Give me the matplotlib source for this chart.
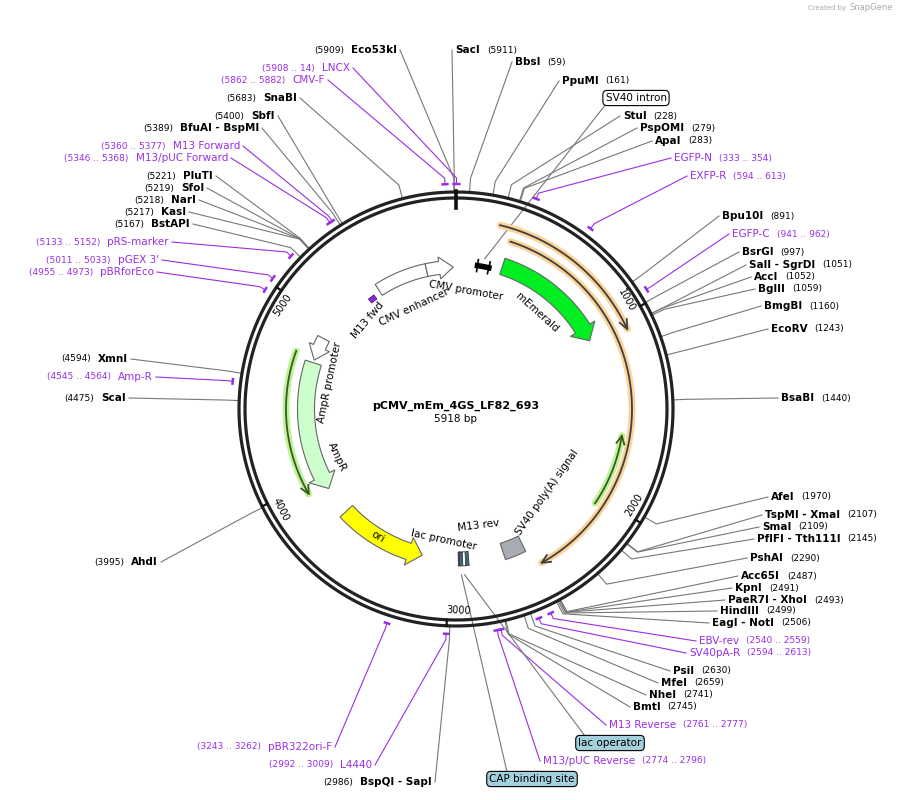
import numpy as np
import matplotlib.pyplot as plt
from matplotlib.patches import Polygon

SEQ_LEN = 5918
TITLE = 'pCMV_mEm_4GS_LF82_693'

# restriction sites
enzyme_names = ['Eco53kI', 'SacI', 'BbsI', 'PpuMI', 'StuI', 'PspOMI', 'ApaI', 'Bpu10I', 'BsrGI',
                'SalI - SgrDI', 'AccI', 'BglII', 'BmgBI', 'EcoRV', 'BsaBI', 'AfeI', 'TspMI - XmaI',
                'SmaI', 'PflFI - Tth111I', 'PshAI', 'Acc65I', 'KpnI', 'PaeR7I - XhoI', 'HindIII',
                'EagI - NotI', 'PsiI', 'MfeI', 'NheI', 'BmtI', 'BspQI - SapI', 'AhdI', 'ScaI',
                'XmnI', 'BstAPI', 'KasI', 'NarI', 'SfoI', 'PluTI', 'BfuAI - BspMI', 'SbfI', 'SnaBI']
enzyme_pos = [5909, 5911, 59, 161, 228, 279, 283, 891, 997, 1051, 1052, 1059, 1160, 1243, 1440,
              1970, 2107, 2109, 2145, 2290, 2487, 2491, 2493, 2499, 2506, 2630, 2659, 2741, 2745,
              2986, 3995, 4475, 4594, 5167, 5217, 5218, 5219, 5221, 5389, 5400, 5683]

# primer binding sites
primer_names = ['LNCX', 'CMV-F', 'M13 Forward', 'M13/pUC Forward', 'pRS-marker', "pGEX 3'",
                'pBRforEco', 'Amp-R', 'pBR322ori-F', 'L4440', 'EGFP-N', 'EXFP-R', 'EGFP-C',
                'EBV-rev', 'SV40pA-R', 'M13 Reverse', 'M13/pUC Reverse']
primer_start = [5908, 5862, 5360, 5346, 5133, 5011, 4955, 4545, 3243, 2992, 333, 594, 941,
                2540, 2594, 2761, 2774]
primer_end = [14, 5882, 5377, 5368, 5152, 5033, 4973, 4564, 3262, 3009, 354, 613, 962,
              2559, 2613, 2777, 2796]

# label layout (side, x, y) in pixels
enzyme_layout = [('l', 397, 50), ('r', 455, 50), ('r', 515, 62), ('r', 562, 81), ('r', 623, 116),
                 ('r', 640, 128), ('r', 655, 141), ('r', 722, 216), ('r', 742, 252),
                 ('r', 749, 265), ('r', 754, 277), ('r', 758, 289), ('r', 764, 306),
                 ('r', 771, 329), ('r', 781, 398), ('r', 771, 497), ('r', 765, 515),
                 ('r', 762, 527), ('r', 757, 539), ('r', 750, 558), ('r', 741, 576),
                 ('r', 735, 588), ('r', 728, 600), ('r', 720, 611), ('r', 712, 623),
                 ('r', 673, 671), ('r', 661, 683), ('r', 649, 695), ('r', 633, 707),
                 ('l', 432, 782), ('l', 158, 562), ('l', 126, 398), ('l', 128, 359),
                 ('l', 190, 224), ('l', 186, 212), ('l', 196, 200), ('l', 204, 188),
                 ('l', 213, 176), ('l', 259, 128), ('l', 275, 116), ('l', 297, 98)]
primer_layout = [('l', 350, 68), ('l', 325, 80), ('l', 240, 146), ('l', 228, 158),
                 ('l', 169, 242), ('l', 159, 260), ('l', 154, 272), ('l', 153, 377),
                 ('l', 332, 747), ('l', 372, 765), ('r', 674, 158), ('r', 690, 176),
                 ('r', 732, 234), ('r', 699, 641), ('r', 689, 653), ('r', 609, 725),
                 ('r', 543, 761)]

# features: name, start, end, direction(+1 cw, -1 ccw), colour
feat_names = ['CMV enhancer', 'CMV promoter', 'mEmerald', 'SV40 poly(A) signal', 'ori', 'AmpR',
              'AmpR promoter']
feat_start = [5376, 5721, 296, 2530, 3173, 3912, 4751]
feat_end = [5721, 5900, 1035, 2660, 3732, 4734, 4899]
feat_dir = [0, 1, 1, 0, -1, -1, -1]
feat_colors = ['white', 'white', '#00ee22', '#a8acb4', '#ffff00', '#ccffcc', 'white']

# ORF arcs
orf_start = [222, 296, 1630, 3946]
orf_end = [1068, 2480, 2040, 4767]
orf_dir = [1, 1, -1, -1]
orf_radius = [189, 176, 168, 170]
orf_colors = [('#fbd49a', '#3f3f3f'), ('#fbd49a', '#3f3f3f'),
              ('#bdf29a', '#3b5a20'), ('#bdf29a', '#3b5a20')]

CX, CY = 456, 409
R_OUT, R_IN = 217, 211
PURPLE = '#9a2ee6'


def ang(bp):
    return 2 * np.pi * bp / SEQ_LEN


def pt(bp, r):
    a = ang(bp)
    return CX + r * np.sin(a), CY - r * np.cos(a)


def arc_pts(b0, b1, r, n=80):
    if b1 < b0:
        b1 += SEQ_LEN
    bps = np.linspace(b0, b1, n)
    a = ang(bps)
    return CX + r * np.sin(a), CY - r * np.cos(a)


def arrow_poly(b0, b1, r, w, direction, head_w=None, head_len_px=14):
    head_w = head_w or w * 1.6
    span = (b1 - b0) % SEQ_LEN
    hb = head_len_px / (2 * np.pi * r) * SEQ_LEN if direction else 0
    hb = min(hb, span * 0.6)
    if direction >= 0:
        body0, body1 = b0, b0 + span - hb
    else:
        body0, body1 = b0 + hb, b0 + span
    ox, oy = arc_pts(body0, body1, r + w / 2)
    ix, iy = arc_pts(body0, body1, r - w / 2)
    pts = list(zip(ox, oy))
    if direction > 0:
        pts += [pt(body1, r + head_w / 2), pt(b0 + span, r), pt(body1, r - head_w / 2)]
        pts += list(zip(ix[::-1], iy[::-1]))
    elif direction < 0:
        pts += list(zip(ix[::-1], iy[::-1]))
        pts += [pt(body0, r - head_w / 2), pt(b0, r), pt(body0, r + head_w / 2)]
    else:
        pts += list(zip(ix[::-1], iy[::-1]))
    return pts


fig = plt.figure(figsize=(9.06, 8), dpi=100)
ax = fig.add_axes([0, 0, 1, 1])
ax.set_xlim(0, 906)
ax.set_ylim(800, 0)
ax.axis('off')
renderer = fig.canvas.get_renderer()

# backbone ring
th = np.linspace(0, 2 * np.pi, 400)
for r in (R_OUT, R_IN):
    ax.plot(CX + r * np.sin(th), CY - r * np.cos(th), color='#222222', lw=2.3, zorder=3)
ax.plot([CX, CX], [CY - R_OUT - 1, CY - R_IN + 10], color='#111111', lw=2.6, zorder=4)
for k in range(1, 6):
    bp = k * 1000
    x0, y0 = pt(bp, R_IN)
    x1, y1 = pt(bp, R_OUT)
    ax.plot([x0, x1], [y0, y1], color='#111111', lw=1.6, zorder=4)
    deg = np.degrees(ang(bp))
    rot = -deg
    if 90 < deg < 270:
        rot += 180
    tx, ty = pt(bp - 55, R_IN - 9)
    ax.text(tx, ty, str(bp), fontsize=7, rotation=rot, ha='center', va='center', zorder=5)

# ORF arcs
for s, e, d, r, (halo, core) in zip(orf_start, orf_end, orf_dir, orf_radius, orf_colors):
    x, y = arc_pts(s, e, r)
    ax.plot(x, y, color=halo, lw=5, solid_capstyle='round', zorder=2)
    ax.plot(x, y, color=core, lw=1.3, zorder=2)
    tip = e if d > 0 else s
    back = tip - d * 45
    tx, ty = pt(tip, r)
    bx1, by1 = pt(back, r + 4)
    bx2, by2 = pt(back, r - 4)
    ax.plot([bx1, tx, bx2], [by1, ty, by2], color=core, lw=1.3, zorder=2)

# features
for name, s, e, d, c in zip(feat_names, feat_start, feat_end, feat_dir, feat_colors):
    w = 13 if c == 'white' else 17
    ax.add_patch(Polygon(arrow_poly(s, e, 142 if name.startswith('CMV') else 150, w, d,
                                    head_w=w * 1.7), closed=True, facecolor=c,
                         edgecolor='#666666', lw=0.8, zorder=3))
# small elements
ax.add_patch(Polygon(arrow_poly(5285, 5330, 138, 5, 0), facecolor='#8a2be2', edgecolor='#4b1a7a', lw=0.6, zorder=3))
x, y = arc_pts(140, 215, 145)
ax.plot(x, y, color='black', lw=4, zorder=3)
for b in (140, 215):
    a0, a1 = pt(b, 139), pt(b, 151)
    ax.plot([a0[0], a1[0]], [a0[1], a1[1]], color='black', lw=1.2, zorder=3)
for s, e, c in [(2880, 2895, '#2f7f94'), (2900, 2918, 'white'), (2922, 2937, '#2f7f94'), (2937, 2945, '#8a2be2')]:
    ax.add_patch(Polygon(arrow_poly(s, e, 150, 14, 0), facecolor=c, edgecolor='#333333', lw=0.6, zorder=3))

# feature labels
feat_text = [('M13 fwd', 368, 320, 50), ('CMV enhancer', 414, 307, 25), ('CMV promoter', 466, 291, -10),
             ('mEmerald', 537, 313, -42), ('SV40 poly(A) signal', 547, 492, 55), ('M13 rev', 478, 525, 7),
             ('lac promoter', 444, 540, -12), ('ori', 378, 537, -30), ('AmpR promoter', 330, 382, 78),
             ('AmpR', 337, 457, -65)]
for t, x, y, rot in feat_text:
    ax.text(x, y, t, fontsize=7.5, rotation=rot, ha='center', va='center', zorder=5)

ax.text(CX, 406, TITLE, fontsize=8, fontweight='bold', ha='center', va='center')
ax.text(CX, 419, '5918 bp', fontsize=7.5, ha='center', va='center')
ax.text(846, 8, 'Created by', fontsize=5, color='#aaaaaa', ha='right', va='center')
ax.text(849, 8, 'SnapGene', fontsize=6, color='#aaaaaa', ha='left', va='center')


def draw_label(side, x, y, name, extra, color, bold):
    t = ax.text(x, y, name, fontsize=7.5, fontweight='bold' if bold else 'normal', color=color,
                ha='left' if side == 'r' else 'right', va='center', zorder=6)
    w = t.get_window_extent(renderer).width
    if side == 'r':
        ax.text(x + w + 7, y, extra, fontsize=6.5, color=color, ha='left', va='center', zorder=6)
        return x - 3
    ax.text(x - w - 7, y, extra, fontsize=6.5, color=color, ha='right', va='center', zorder=6)
    return x + 3


def connector(bp, lx, ly, color, r0):
    x0, y0 = pt(bp, r0)
    x1, y1 = pt(bp, R_OUT + 14)
    ax.plot([x0, x1, lx], [y0, y1, ly], color=color, lw=0.8, zorder=1)


for name, pos, (side, x, y) in zip(enzyme_names, enzyme_pos, enzyme_layout):
    end = draw_label(side, x, y, name, f'({pos})', 'black', True)
    connector(pos, end, y, '#777777', R_OUT)

for name, s, e, (side, x, y) in zip(primer_names, primer_start, primer_end, primer_layout):
    end = draw_label(side, x, y, name, f'({s} .. {e})', PURPLE, False)
    mid = (s + ((e - s) % SEQ_LEN) / 2) % SEQ_LEN
    ax.plot(*arc_pts(s, e, R_OUT + 8), color=PURPLE, lw=1.8, zorder=4)
    connector(mid, end, y, PURPLE, R_OUT + 8)

# boxed feature labels
boxes = [('SV40 intron', 636, 98, 'white', 178, 145), ('lac operator', 610, 743, '#a4cfdc', 2910, 158),
         ('CAP binding site', 532, 779, '#a4cfdc', 2928, 158)]
for t, x, y, c, bp, r in boxes:
    ax.text(x, y, t, fontsize=7.5, ha='center', va='center', zorder=7,
            bbox=dict(boxstyle='round,pad=0.25,rounding_size=0.4', fc=c, ec='black', lw=0.8))
    x0, y0 = pt(bp, r + 8)
    ax.plot([x0, x - 30 if y < 400 else x - 25], [y0, y + 6 if y < 400 else y - 7], color='#777777', lw=0.8, zorder=1)

fig.savefig('out.png', dpi=100)
